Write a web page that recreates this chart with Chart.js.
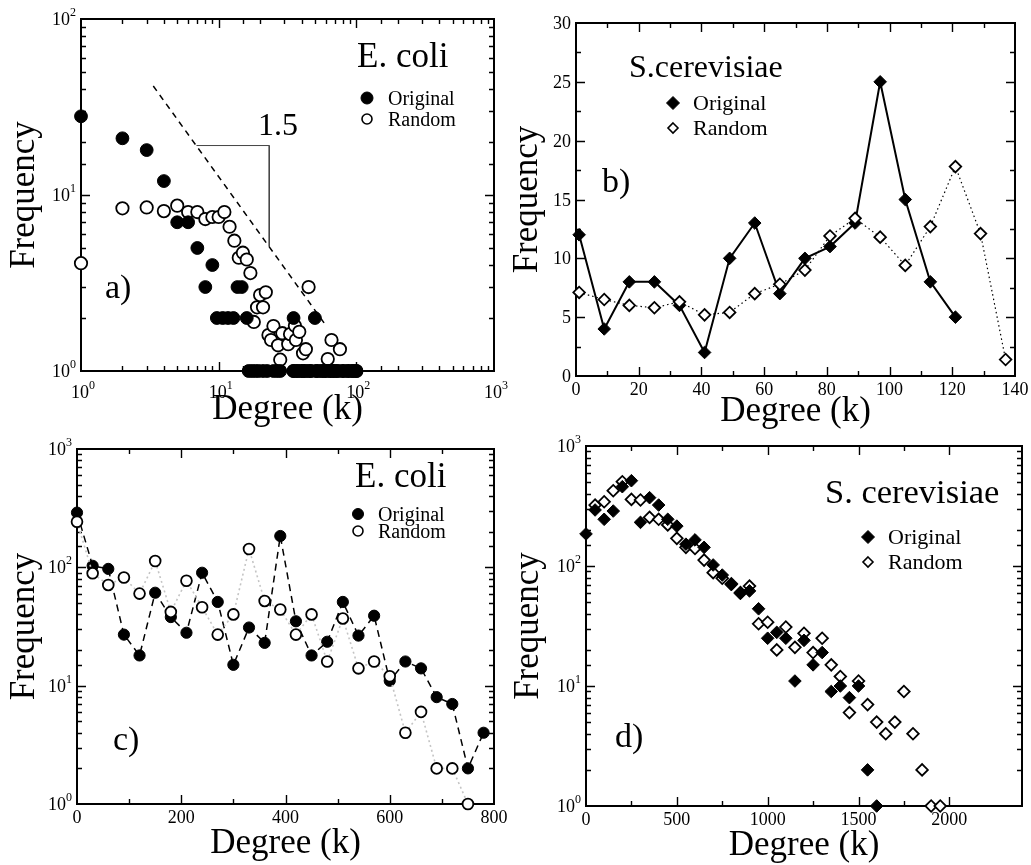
<!DOCTYPE html>
<html>
<head>
<meta charset="utf-8">
<script src="https://cdn.jsdelivr.net/npm/chart.js@4.4.1/dist/chart.umd.min.js"></script>
<style>
  html, body { margin: 0; padding: 0; background: #fff; }
  #wrap { position: relative; width: 1031px; height: 865px; }
  #wrap canvas { position: absolute; left: 0; top: 0; }
</style>
</head>
<body>
<div id="wrap">
  <canvas id="chartA" width="1031" height="865"></canvas>
  <canvas id="chartB" width="1031" height="865"></canvas>
  <canvas id="chartC" width="1031" height="865"></canvas>
  <canvas id="chartD" width="1031" height="865"></canvas>
</div>
<script>
// a) E. coli - log-log degree distribution
const ecoliOrigK = [1, 2, 3, 4, 5, 6, 7, 8, 9, 9.7, 10.7, 11.7, 12.8, 16, 13.7, 14.7, 35, 50,
  16.5, 17.5, 18.5, 19.5, 21, 22.5, 25, 26.5, 28,
  35, 38, 41, 44, 47, 51, 55, 59, 64, 69, 74, 80, 86, 93, 100];
const ecoliOrigF = [28, 21, 18, 12, 7, 7, 5, 3, 4, 2, 2, 2, 2, 2, 3, 3, 2, 2,
  1, 1, 1, 1, 1, 1, 1, 1, 1,
  1, 1, 1, 1, 1, 1, 1, 1, 1, 1, 1, 1, 1, 1, 1];
const ecoliRandK = [1, 2, 3, 4, 5, 6, 7, 8, 9, 10, 11, 12, 13, 14, 15, 16, 17, 18, 19, 20, 21, 22,
  23, 24, 25, 27, 28, 29, 32, 33, 35.8, 36.4, 38.5, 41, 43, 45, 62, 66, 76,
  35, 37, 40, 42, 46, 52, 57, 60, 65, 68, 72, 80, 88, 95, 100];
const ecoliRandF = [4.1, 8.4, 8.5, 8.1, 8.7, 8.0, 8.0, 7.3, 7.5, 7.5, 8.0, 6.6, 5.5, 4.4, 4.7, 4.3, 3.6, 1.9, 2.3, 2.7, 2.3, 2.8,
  1.6, 1.5, 1.8, 1.4, 1.16, 1.64, 1.42, 1.62, 1.81, 1.5, 1.67, 1.26, 1.33, 3.0, 1.17, 1.5, 1.33,
  1, 1, 1, 1, 1, 1, 1, 1, 1, 1, 1, 1, 1, 1, 1];
// guide line (dashed) and slope triangle
const guideK = [3.35, 60.9];
const guideF = [41.6, 1.79];
const triK = [6.9, 23.3, 23.3];
const triF = [19.1, 19.1, 5.09];

// b) S. cerevisiae - linear
const scerDegB = [1, 9, 17, 25, 33, 41, 49, 57, 65, 73, 81, 89, 97, 105, 113, 121, 129, 137];
const scerOrigB = [12, 4, 8, 8, 6, 2, 10, 13, 7, 10, 11, 13, 25, 15, 8, 5];
const scerRandB = [7.1, 6.5, 6.0, 5.8, 6.3, 5.2, 5.4, 7.0, 7.8, 9.0, 11.9, 13.4, 11.8, 9.4, 12.7, 17.8, 12.1, 1.4];

// c) E. coli - linear degree, log frequency
const ecoliDegC = [0, 30, 60, 90, 120, 150, 180, 210, 240, 270, 300, 330, 360, 390, 420, 450, 480, 510,
  540, 570, 600, 630, 660, 690, 720, 750, 780];
const ecoliOrigC = [290, 103, 97, 27, 18, 61, 38, 28, 90, 51, 15, 31, 23, 184, 35, 18, 23.5, 51,
  26.5, 39, 11, 16, 14, 8, 7, 2, 4];
const ecoliRandC = [243, 89, 71, 82, 60, 113, 42, 77, 46, 27, 40, 143, 52, 44, 27, 40, 16, 37,
  14, 16, 12, 4, 6, 2, 2, 1];

// d) S. cerevisiae - linear degree, log frequency
const scerOrigDegD = [0, 50, 100, 150, 200, 250, 300, 350, 400, 450, 500, 550, 600, 650, 700, 750, 800,
  850, 900, 950, 1000, 1050, 1100, 1150, 1200, 1250, 1300, 1350, 1400, 1450, 1500, 1550, 1600];
const scerOrigD = [185, 293, 245, 287, 458, 514, 231, 371, 322, 245, 215, 152, 165, 143, 102, 84, 70,
  59, 62, 44, 25, 28, 25, 11, 24, 15, 19, 9, 10, 8, 10, 2, 1];
const scerRandDegD = [50, 100, 150, 200, 250, 300, 350, 400, 450, 500, 550, 600, 650, 700, 750, 800, 850,
  900, 950, 1000, 1050, 1100, 1150, 1200, 1250, 1300, 1350, 1400, 1450, 1500, 1550, 1600, 1650, 1700,
  1750, 1800, 1850, 1900, 1950];
const scerRandD = [322, 343, 424, 504, 359, 355, 254, 245, 220, 170, 143, 140, 112, 88, 79, 71, 60,
  68, 33, 34, 20, 31, 21, 27.5, 19, 25, 15, 12, 6, 11, 7, 5, 4, 5,
  9, 4, 2, 1, 1];

const SERIF = '"Liberation Serif", "Times New Roman", serif';

function pts(xs, ys) {
  return ys.map((y, i) => ({ x: xs[i], y: y }));
}

function isPow10(v) {
  const e = Math.log10(v);
  return Math.abs(e - Math.round(e)) < 1e-6;
}

function logKind(v) {
  return isPow10(v) ? 2 : 1;
}

// "10" with a small raised exponent
function drawPow(ctx, v, x, y, align) {
  const e = String(Math.round(Math.log10(v)));
  ctx.font = '18px ' + SERIF;
  const wb = ctx.measureText('10').width;
  ctx.font = '12px ' + SERIF;
  const ws = ctx.measureText(e).width;
  const x0 = align === 'center' ? x - (wb + ws) / 2 + 2 : x - wb - ws;
  ctx.textAlign = 'left';
  ctx.font = '18px ' + SERIF;
  ctx.fillText('10', x0, y);
  ctx.font = '12px ' + SERIF;
  ctx.fillText(e, x0 + wb, y - 9);
}

function drawMarker(ctx, m) {
  ctx.beginPath();
  if (m.shape === 'circle') {
    ctx.arc(m.x, m.y, m.r, 0, Math.PI * 2);
  } else {
    ctx.moveTo(m.x, m.y - m.r);
    ctx.lineTo(m.x + m.r, m.y);
    ctx.lineTo(m.x, m.y + m.r);
    ctx.lineTo(m.x - m.r, m.y);
    ctx.closePath();
  }
  ctx.fillStyle = m.filled ? '#000' : '#fff';
  ctx.fill();
  ctx.lineWidth = m.filled ? 1 : 1.6;
  ctx.strokeStyle = '#000';
  ctx.stroke();
}

// frame with inward ticks on all four sides, tick labels, titles, legend
const framePlugin = {
  id: 'frame',
  beforeDatasetsDraw(chart, args, o) {
    const { ctx, chartArea: a } = chart;
    const xs = chart.scales.x, ys = chart.scales.y;
    ctx.save();
    ctx.strokeStyle = '#000';
    ctx.lineWidth = 1.4;
    ctx.beginPath();
    xs.ticks.forEach(t => {
      const k = o.xKind(t.value);
      if (!k) return;
      const p = Math.round(xs.getPixelForValue(t.value)) + 0.5;
      if (p < a.left + 1 || p > a.right - 1) return;
      const len = k === 2 ? 9 : 5;
      ctx.moveTo(p, a.bottom); ctx.lineTo(p, a.bottom - len);
      ctx.moveTo(p, a.top); ctx.lineTo(p, a.top + len);
    });
    ys.ticks.forEach(t => {
      const k = o.yKind(t.value);
      if (!k) return;
      const p = Math.round(ys.getPixelForValue(t.value)) + 0.5;
      if (p < a.top + 1 || p > a.bottom - 1) return;
      const len = k === 2 ? 9 : 5;
      ctx.moveTo(a.left, p); ctx.lineTo(a.left + len, p);
      ctx.moveTo(a.right, p); ctx.lineTo(a.right - len, p);
    });
    ctx.stroke();
    ctx.lineWidth = 2;
    ctx.strokeRect(a.left, a.top, a.right - a.left, a.bottom - a.top);
    ctx.restore();
  },
  afterDraw(chart, args, o) {
    const { ctx, chartArea: a } = chart;
    const xs = chart.scales.x, ys = chart.scales.y;
    ctx.save();
    ctx.fillStyle = '#000';

    // tick labels
    xs.ticks.forEach(t => {
      if (o.xKind(t.value) !== 2) return;
      const p = xs.getPixelForValue(t.value);
      if (o.xLog) {
        drawPow(ctx, t.value, p, a.bottom + 27, 'center');
      } else {
        ctx.font = '18px ' + SERIF;
        ctx.textAlign = 'center';
        ctx.fillText(String(t.value), p, a.bottom + 19);
      }
    });
    ys.ticks.forEach(t => {
      if (o.yKind(t.value) !== 2) return;
      const p = ys.getPixelForValue(t.value);
      if (o.yLog) {
        drawPow(ctx, t.value, a.left - 5, p + 6, 'right');
      } else {
        ctx.font = '18px ' + SERIF;
        ctx.textAlign = 'right';
        ctx.fillText(String(t.value), a.left - 5, p + 6);
      }
    });

    // axis titles
    ctx.font = '35px ' + SERIF;
    ctx.textAlign = 'center';
    ctx.fillText('Degree (k)', (a.left + a.right) / 2, o.xTitleY);
    ctx.save();
    ctx.translate(o.yTitleX, (a.top + a.bottom) / 2);
    ctx.rotate(-Math.PI / 2);
    ctx.fillText('Frequency', 0, 0);
    ctx.restore();

    // free texts
    o.texts.forEach(t => {
      ctx.font = t.size + 'px ' + SERIF;
      ctx.textAlign = 'left';
      ctx.fillText(t.text, t.x, t.y);
    });

    // legend
    o.legend.forEach(m => {
      drawMarker(ctx, m);
      ctx.fillStyle = '#000';
      ctx.font = m.size + 'px ' + SERIF;
      ctx.textAlign = 'left';
      ctx.fillText(m.label, m.tx, m.y + m.size * 0.33);
    });
    ctx.restore();
  }
};

function axis(type, min, max, size, step) {
  const ax = {
    type: type,
    min: min,
    max: max,
    grid: { display: false },
    border: { display: false },
    ticks: { display: false },
    afterFit(s) {
      if (s.isHorizontal()) s.height = size;
      else s.width = size;
    }
  };
  if (step) ax.ticks.stepSize = step;
  return ax;
}

function makeChart(id, area, scales, datasets, frame) {
  return new Chart(document.getElementById(id), {
    type: 'scatter',
    data: { datasets: datasets },
    options: {
      responsive: false,
      animation: false,
      events: [],
      layout: { autoPadding: false, padding: { left: 0, top: area.top, right: 1031 - area.right, bottom: 0 } },
      scales: scales,
      plugins: { legend: { display: false }, tooltip: { enabled: false }, frame: frame }
    },
    plugins: [framePlugin]
  });
}

function filledSet(data, style, r, order) {
  return { data: data, pointStyle: style, pointRadius: r, backgroundColor: '#000', borderColor: '#000',
    pointBorderWidth: 1, clip: false, order: order };
}
function openSet(data, style, r, order) {
  return { data: data, pointStyle: style, pointRadius: r, backgroundColor: '#fff', borderColor: '#000',
    pointBorderWidth: 1.8, clip: false, order: order };
}

// ---- a) ----
makeChart('chartA', { top: 19, right: 494 }, {
  x: axis('logarithmic', 1, 1000, 865 - 371),
  y: axis('logarithmic', 1, 100, 81)
}, [
  filledSet(pts(ecoliOrigK, ecoliOrigF), 'circle', 6.4, 1),
  openSet(pts(ecoliRandK, ecoliRandF), 'circle', 6.2, 2),
  { data: pts(guideK, guideF), showLine: true, pointRadius: 0, borderColor: '#000', borderWidth: 1.5,
    borderDash: [6, 5], order: 0 },
  { data: pts(triK, triF), showLine: true, pointRadius: 0, borderColor: '#444', borderWidth: 1, order: 0 }
], {
  xLog: true, yLog: true, xKind: logKind, yKind: logKind,
  xTitleY: 419, yTitleX: 34,
  texts: [
    { text: 'E. coli', x: 357, y: 67, size: 35 },
    { text: '1.5', x: 258, y: 135, size: 32 },
    { text: 'a)', x: 105, y: 298, size: 34 }
  ],
  legend: [
    { shape: 'circle', filled: true, x: 367, y: 98, r: 6, label: 'Original', tx: 388, size: 20 },
    { shape: 'circle', filled: false, x: 367, y: 119, r: 5, label: 'Random', tx: 388, size: 20 }
  ]
});

// ---- b) ----
makeChart('chartB', { top: 23, right: 1015 }, {
  x: axis('linear', 0, 140, 865 - 376, 10),
  y: axis('linear', 0, 30, 576, 2.5)
}, [
  Object.assign(filledSet(pts(scerDegB, scerOrigB), 'rectRot', 6.3, 1),
    { showLine: true, borderWidth: 2 }),
  Object.assign(openSet(pts(scerDegB, scerRandB), 'rectRot', 5.8, 0),
    { showLine: true, borderWidth: 1.2, borderDash: [1.5, 3] })
], {
  xLog: false, yLog: false,
  xKind: v => (v % 20 === 0 ? 2 : 1),
  yKind: v => (v % 5 === 0 ? 2 : 1),
  xTitleY: 421, yTitleX: 537,
  texts: [
    { text: 'S.cerevisiae', x: 629, y: 77, size: 32 },
    { text: 'b)', x: 602, y: 192, size: 34 }
  ],
  legend: [
    { shape: 'diamond', filled: true, x: 673, y: 103, r: 6.5, label: 'Original', tx: 693, size: 22 },
    { shape: 'diamond', filled: false, x: 673, y: 128, r: 5, label: 'Random', tx: 693, size: 22 }
  ]
});

// ---- c) ----
makeChart('chartC', { top: 449, right: 494 }, {
  x: axis('linear', 0, 800, 865 - 804, 100),
  y: axis('logarithmic', 1, 1000, 77)
}, [
  Object.assign(filledSet(pts(ecoliDegC, ecoliOrigC), 'circle', 5.6, 1),
    { showLine: true, borderWidth: 1.5, borderDash: [7, 5] }),
  Object.assign(openSet(pts(ecoliDegC, ecoliRandC), 'circle', 5.4, 0),
    { showLine: true, borderColor: '#c4c4c4', pointBorderColor: '#000', borderWidth: 1.6, borderDash: [2, 3] })
], {
  xLog: false, yLog: true,
  xKind: v => (v % 200 === 0 ? 2 : 1),
  yKind: logKind,
  xTitleY: 853, yTitleX: 34,
  texts: [
    { text: 'E. coli', x: 355, y: 487, size: 35 },
    { text: 'c)', x: 113, y: 750, size: 34 }
  ],
  legend: [
    { shape: 'circle', filled: true, x: 358, y: 514, r: 5.5, label: 'Original', tx: 378, size: 20 },
    { shape: 'circle', filled: false, x: 358, y: 531, r: 5, label: 'Random', tx: 378, size: 20 }
  ]
});

// ---- d) ----
makeChart('chartD', { top: 446, right: 1022 }, {
  x: axis('linear', 0, 2400, 865 - 806, 250),
  y: axis('logarithmic', 1, 1000, 586)
}, [
  filledSet(pts(scerOrigDegD, scerOrigD), 'rectRot', 6.3, 0),
  openSet(pts(scerRandDegD, scerRandD), 'rectRot', 5.8, 1)
], {
  xLog: false, yLog: true,
  xKind: v => (v % 500 === 0 ? 2 : (v % 250 === 0 ? 1 : 0)),
  yKind: logKind,
  xTitleY: 855, yTitleX: 538,
  texts: [
    { text: 'S. cerevisiae', x: 825, y: 503, size: 34.5 },
    { text: 'd)', x: 615, y: 747, size: 34 }
  ],
  legend: [
    { shape: 'diamond', filled: true, x: 868, y: 537, r: 6.5, label: 'Original', tx: 888, size: 22 },
    { shape: 'diamond', filled: false, x: 868, y: 562, r: 5, label: 'Random', tx: 888, size: 22 }
  ]
});
</script>
</body>
</html>
